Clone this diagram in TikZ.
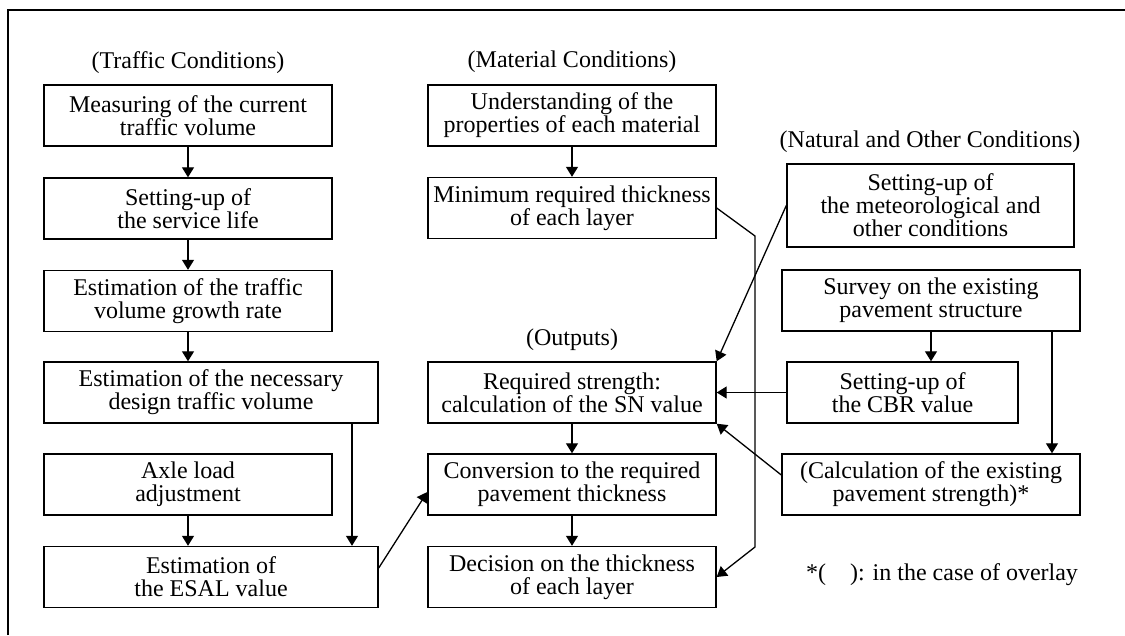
\documentclass[tikz,border=0pt]{standalone}
\usepackage{fontspec}
\setmainfont{Liberation Serif}
\usetikzlibrary{arrows.meta}

\begin{document}
\begin{tikzpicture}[x=1pt,y=-1pt,
  font=\fontsize{24}{23}\selectfont,
  box/.style={draw,line width=1.4pt,align=center,inner sep=0pt,minimum width=288,minimum height=61},
  arr/.style={line width=1.3pt,-{Triangle[length=10pt,width=12pt]}},
  ln/.style={line width=1.3pt}]
  \useasboundingbox (0,0) rectangle (1125,635);
  \draw[line width=1.5pt] (8,635) -- (8,10) -- (1125,10);
  \node (traffic) at (188,63) {(Traffic Conditions)};
  \node (material) at (572,62) {(Material Conditions)};
  \node (natural) at (930,142) {(Natural and Other Conditions)};
  \node (outputs) at (572,340) {(Outputs)};
  \node[box] (t1) at (188,115.5) {Measuring of the current\\traffic volume};
  \node[box] (t2) at (188,208.5) {Setting-up of\\the service life};
  \node[box] (t3) at (188,301) {Estimation of the traffic\\volume growth rate};
  \node[box,minimum width=334] (t4) at (211,392.5) {Estimation of the necessary\\design traffic volume};
  \node[box] (t5) at (188,484.5) {Axle load\\adjustment};
  \node[box,minimum width=334] (t6) at (211,577) {Estimation of\\the ESAL value};
  \node[box] (m1) at (572,115.5) {Understanding of the\\properties of each material};
  \node[box] (m2) at (572,208) {Minimum required thickness\\of each layer};
  \node[box] (o1) at (572,392.5) {Required strength:\\calculation of the SN value};
  \node[box] (o2) at (572,484.5) {Conversion to the required\\pavement thickness};
  \node[box] (o3) at (572,577) {Decision on the thickness\\of each layer};
  \node[box,minimum width=287,minimum height=83] (n1) at (930.5,205.5) {Setting-up of\\the meteorological and\\other conditions};
  \node[box,minimum width=298] (n2) at (931,300.5) {Survey on the existing\\pavement structure};
  \node[box,minimum width=231] (n3) at (902.5,392.5) {Setting-up of\\the CBR value};
  \node[box,minimum width=298] (n4) at (931,484.5) {(Calculation of the existing\\pavement strength)*};
  \node (note) at (942,575) {*(\hspace{24pt}): in the case of overlay};
  \coordinate (k1) at (755,236);
  \coordinate (k2) at (755,547);
  \draw[arr] (t1.south) -- (t2.north);
  \draw[arr] (t2.south) -- (t3.north);
  \draw[arr] (t3.south) -- (t3.south |- t4.north);
  \draw[arr] ([xshift=141pt]t4.south) -- ([xshift=141pt]t4.south |- t6.north);
  \draw[arr] (t5.south) -- (t5.south |- t6.north);
  \draw[arr] ([yshift=9pt]t6.east) -- ([yshift=-7.5pt]o2.west);
  \draw[arr] (m1.south) -- (m2.north);
  \draw[arr] (m2.east) -- (k1) -- (k2) -- (o3.east);
  \draw[arr] (o1.south) -- (o2.north);
  \draw[arr] (o2.south) -- (o3.north);
  \draw[arr] (n1.west) -- (o1.north east);
  \draw[arr] (n2.south) -- (n2.south |- n3.north);
  \draw[arr] ([xshift=121pt]n2.south) -- ([xshift=121pt]n2.south |- n4.north);
  \draw[arr] (n3.west) -- (o1.east);
  \draw[arr] ([yshift=9.5pt]n4.west) -- (o1.south east);
\end{tikzpicture}
\end{document}
